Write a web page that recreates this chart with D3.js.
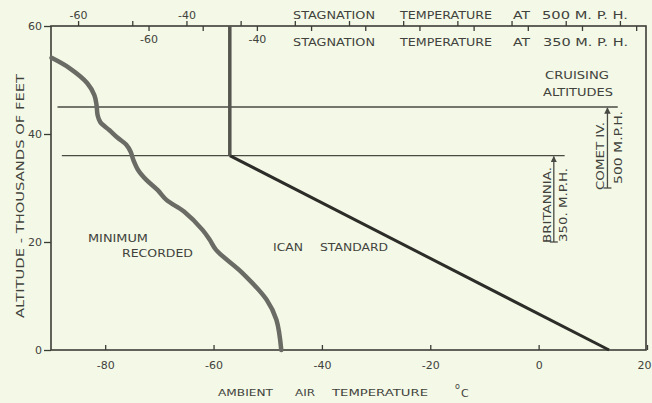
<!DOCTYPE html>
<html>
<head>
<meta charset="utf-8">
<script src="https://cdn.jsdelivr.net/npm/d3@7"></script>
<style>
  html, body { margin: 0; padding: 0; background: #f3f9e6; }
  svg { display: block; }
  text { font-family: "DejaVu Sans", sans-serif; fill: #42423d; }
</style>
</head>
<body>
<svg id="chart" width="652" height="403"></svg>
<script>
// Ambient temperature axis (°C) and altitude axis (thousands of feet)
const tempTicks = [-80, -60, -40, -20, 0, 20];
const altTicks = [0, 20, 40, 60];

// Stagnation temperature rise added to ambient at each speed (°C)
const riseAt500 = 25;
const riseAt350 = 12;
const stag500Ticks = [-60, -50, -40, -30, -20, -10, 0, 10, 20, 30, 40];
const stag350Ticks = [-60, -50, -40, -30, -20, -10, 0, 10, 20, 30];
const stagLabels = [-60, -40];

// Minimum recorded temperatures: altitude (k ft) and temperature (°C)
const minAlt  = [54.1, 52.2, 49.4, 47.2, 45.4, 43.5, 42.2, 40.7, 39.3, 38.0, 36.7, 35.2, 33.3, 31.5, 29.6, 27.8, 25.6, 22.2, 20.4, 18.5, 14.3, 9.3, 5.6, 0];
const minTemp = [-89.9, -86.6, -83.3, -82.0, -81.6, -81.4, -80.9, -79.2, -77.7, -76.1, -75.3, -74.8, -73.9, -72.4, -70.3, -68.7, -65.4, -62.0, -60.7, -59.5, -54.7, -50.2, -48.4, -47.5];

// ICAN standard atmosphere: sea level, tropopause, top of chart
const icanAlt  = [0, 36, 60];
const icanTemp = [13, -57, -57];

// Cruising altitudes (k ft), extent of each line (°C), bracket position and lower end
const cruiseNames = ["COMET IV.", "BRITANNIA."];
const cruiseSpeeds = ["500 M.P.H.", "350. M.P.H."];
const cruiseAlt = [45, 36];
const cruiseFrom = [-88.8, -88.0];
const cruiseTo = [14.6, 4.8];
const bracketTemp = [12.7, 2.8];
const bracketLow = [30, 20];

const svg = d3.select("#chart");
const x = d3.scaleLinear().domain([-90, 20]).range([51, 647]);
const y = d3.scaleLinear().domain([0, 60]).range([350, 26]);
const x500 = d3.scaleLinear().domain([-90 + riseAt500, 20 + riseAt500]).range(x.range());
const x350 = d3.scaleLinear().domain([-90 + riseAt350, 20 + riseAt350]).range(x.range());

const ink = "#3c3c36";
const fmt = d => String(d).replace("−", "-");

// Frame
svg.append("rect")
  .attr("x", x(-90)).attr("y", y(60))
  .attr("width", x(20) - x(-90) - 1).attr("height", y(0) - y(60))
  .attr("fill", "none").attr("stroke", ink).attr("stroke-width", 1.6);

function styleAxis(g) {
  g.select(".domain").remove();
  g.selectAll(".tick line").attr("stroke", ink).attr("stroke-width", 1.3);
  g.selectAll(".tick text").attr("fill", "#42423d").attr("font-size", 11)
    .attr("font-family", "DejaVu Sans, sans-serif");
}

// Bottom axis: ambient temperature, ticks pointing inward
const bottomAxis = svg.append("g").attr("transform", `translate(0,${y(0)})`)
  .call(d3.axisBottom(x).tickValues(tempTicks).tickSize(-5).tickPadding(11).tickFormat(fmt))
  .call(styleAxis);
// the last label sits against the right edge of the page
bottomAxis.selectAll(".tick").filter(d => d === 20).select("text")
  .attr("text-anchor", "end").attr("x", 4);

// Left axis: altitude
svg.append("g").attr("transform", `translate(${x(-90)},0)`)
  .call(d3.axisLeft(y).tickValues(altTicks).tickSize(7).tickPadding(2).tickFormat(d => d))
  .call(styleAxis);

// Top axes: stagnation temperature at 500 and 350 m.p.h.
svg.append("g").attr("transform", `translate(0,${y(60)})`)
  .call(d3.axisTop(x500).tickValues(stag500Ticks).tickSize(5).tickPadding(2)
    .tickFormat(d => stagLabels.includes(d) ? fmt(d) : ""))
  .call(styleAxis);
svg.append("g").attr("transform", `translate(0,${y(60)})`)
  .call(d3.axisBottom(x350).tickValues(stag350Ticks).tickSize(5).tickPadding(4)
    .tickFormat(d => stagLabels.includes(d) ? fmt(d) : ""))
  .call(styleAxis);

function caption(tx, ty, str, len, opts = {}) {
  const t = svg.append("text").attr("x", tx).attr("y", ty).text(str)
    .attr("font-size", opts.size || 10)
    .attr("textLength", len).attr("lengthAdjust", "spacingAndGlyphs");
  if (opts.fill) t.attr("fill", opts.fill);
  if (opts.rotate) t.attr("transform", `rotate(-90,${tx},${ty})`);
  return t;
}

// Top scale titles
caption(293, 19, "STAGNATION", 82);
caption(400, 19, "TEMPERATURE", 92);
caption(513, 19, "AT", 17);
caption(542, 19, "500 M. P. H.", 86);
caption(293, 46, "STAGNATION", 82);
caption(400, 46, "TEMPERATURE", 92);
caption(513, 46, "AT", 17);
caption(543, 46, "350 M. P. H.", 85);

// Cruising altitude lines
cruiseAlt.forEach((a, i) => {
  svg.append("line")
    .attr("x1", x(cruiseFrom[i])).attr("x2", x(cruiseTo[i]))
    .attr("y1", y(a)).attr("y2", y(a))
    .attr("stroke", "#4a4a44").attr("stroke-width", 1.3);
});

// ICAN standard atmosphere
const icanPts = icanAlt.map((a, i) => [icanTemp[i], a]);
svg.append("path")
  .attr("d", d3.line().x(d => x(d[0])).y(d => y(d[1]))(icanPts.slice(0, 2)))
  .attr("fill", "none").attr("stroke", "#2c2c28").attr("stroke-width", 3);
svg.append("path")
  .attr("d", d3.line().x(d => x(d[0])).y(d => y(d[1]))(icanPts.slice(1)))
  .attr("fill", "none").attr("stroke", "#55554f").attr("stroke-width", 3.5);

// Minimum recorded curve
const minPts = minAlt.map((a, i) => [minTemp[i], a]);
svg.append("path")
  .attr("d", d3.line().curve(d3.curveCatmullRom.alpha(0.5))
    .x(d => x(d[0])).y(d => y(d[1]))(minPts))
  .attr("fill", "none").attr("stroke", "#6b6b66").attr("stroke-width", 4.5)
  .attr("stroke-linecap", "round");

// Cruise brackets with arrowheads and rotated labels
svg.append("defs").append("marker")
  .attr("id", "arrow").attr("viewBox", "0 0 10 10").attr("refX", 9).attr("refY", 5)
  .attr("markerWidth", 5).attr("markerHeight", 5).attr("orient", "auto")
  .append("path").attr("d", "M0,0 L10,5 L0,10 Z").attr("fill", "#4a4a44");

bracketTemp.forEach((t, i) => {
  const bx = x(t);
  svg.append("line")
    .attr("x1", bx).attr("x2", bx)
    .attr("y1", y(bracketLow[i])).attr("y2", y(cruiseAlt[i]) + 1)
    .attr("stroke", "#4a4a44").attr("stroke-width", 1.3)
    .attr("marker-end", "url(#arrow)");
  svg.append("line")
    .attr("x1", bx - 4).attr("x2", bx + 4)
    .attr("y1", y(bracketLow[i])).attr("y2", y(bracketLow[i]))
    .attr("stroke", "#4a4a44").attr("stroke-width", 1.3);
});
caption(604, 190, cruiseNames[0], 68, { rotate: true, size: 10 });
caption(622, 184, cruiseSpeeds[0], 73, { rotate: true, size: 10 });
caption(551, 243, cruiseNames[1], 76, { rotate: true, size: 10 });
caption(567, 242, cruiseSpeeds[1], 74, { rotate: true, size: 10 });

caption(545, 79, "CRUISING", 64);
caption(543, 96, "ALTITUDES", 70);

// Curve names
caption(88, 242, "MINIMUM", 60);
caption(122, 257, "RECORDED", 71);
caption(273, 251, "ICAN", 30, { fill: "#2c2c28" });
caption(320, 251, "STANDARD", 68, { fill: "#2c2c28" });

// Axis titles
caption(218, 396, "AMBIENT", 55, { size: 9.5 });
caption(295, 396, "AIR", 20, { size: 9.5 });
caption(332, 396, "TEMPERATURE", 96, { size: 9.5 });
svg.append("text").attr("x", 455).attr("y", 389).attr("font-size", 8).text("o");
svg.append("text").attr("x", 461).attr("y", 397).attr("font-size", 11).text("C");

caption(24, 318, "ALTITUDE  -  THOUSANDS  OF  FEET", 244, { rotate: true, size: 10 });
</script>
</body>
</html>
